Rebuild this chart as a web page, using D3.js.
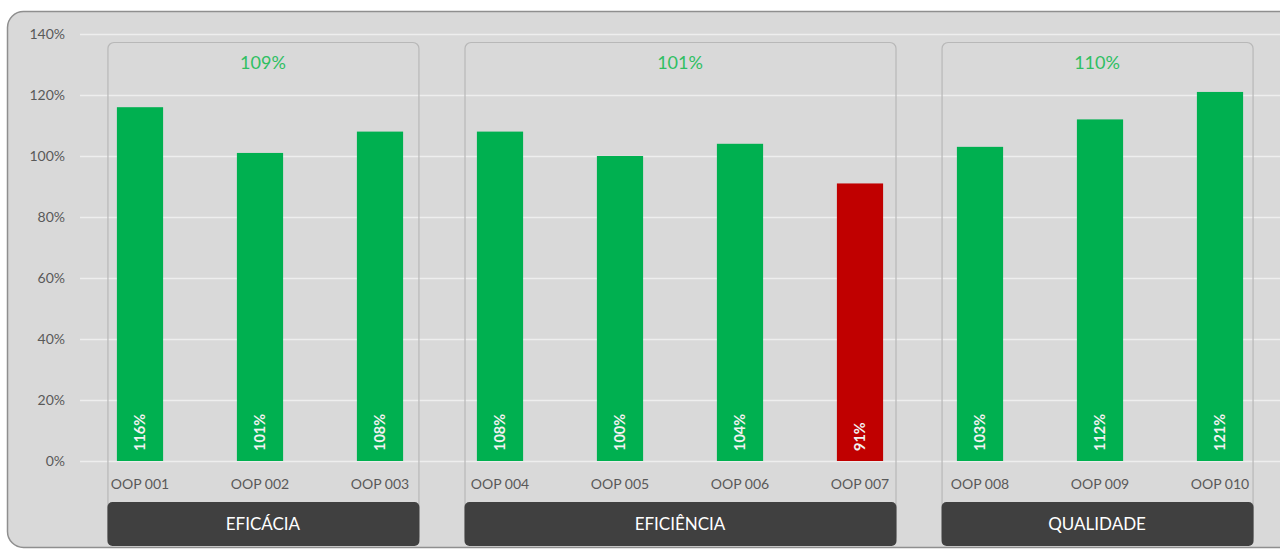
<!DOCTYPE html>
<html>
<head>
<meta charset="utf-8">
<script src="https://cdn.jsdelivr.net/npm/d3@7/dist/d3.min.js"></script>
<style>
  html, body { margin: 0; padding: 0; background: #ffffff; }
  svg { display: block; font-family: Lato, "Open Sans", sans-serif; }
</style>
</head>
<body>
<svg id="chart" width="1280" height="550"></svg>
<script>
// Indicator results per operation
const categories = ["OOP 001", "OOP 002", "OOP 003", "OOP 004", "OOP 005",
                    "OOP 006", "OOP 007", "OOP 008", "OOP 009", "OOP 010"];
const values = [116, 101, 108, 108, 100, 104, 91, 103, 112, 121];
const groupOf = ["EFICÁCIA", "EFICÁCIA", "EFICÁCIA",
                 "EFICIÊNCIA", "EFICIÊNCIA", "EFICIÊNCIA", "EFICIÊNCIA",
                 "QUALIDADE", "QUALIDADE", "QUALIDADE"];
const groupNames = ["EFICÁCIA", "EFICIÊNCIA", "QUALIDADE"];
const groupTotals = [109, 101, 110];
const yTicks = [0, 20, 40, 60, 80, 100, 120, 140];
const target = 100;

const svg = d3.select("#chart");
const plot = { left: 80, right: 1280, top: 34, bottom: 461 };

const x = d3.scaleBand().domain(categories).range([plot.left, plot.right]).paddingInner(0.615).paddingOuter(0.3075);
const y = d3.scaleLinear().domain([0, 140]).range([plot.bottom, plot.top]);
const step = x.step();
const mid = (plot.left + plot.right) / 2;

// Frame
svg.append("rect")
  .attr("x", 7.5).attr("y", 11.5).attr("width", 1290).attr("height", 536)
  .attr("rx", 16).attr("fill", "#d9d9d9").attr("stroke", "#8f8f8f").attr("stroke-width", 1.5);

// Gridlines
svg.append("g").selectAll("line").data(yTicks).join("line")
  .attr("x1", plot.left).attr("x2", plot.right)
  .attr("y1", d => Math.round(y(d)) + 0.5).attr("y2", d => Math.round(y(d)) + 0.5)
  .attr("stroke", "#eeeeee").attr("stroke-width", 1.5);

// Y axis labels
const yAxis = d3.axisLeft(y).tickValues(yTicks).tickFormat(d => d + "%").tickSize(0).tickPadding(0);
const yg = svg.append("g").attr("transform", "translate(65,0)").call(yAxis);
yg.select(".domain").remove();
yg.selectAll("text").attr("fill", "#595959").style("font-size", "14px").style("font-family", "Lato, sans-serif");

// Group panels, drawn slightly pulled toward the middle of the plot
const groups = groupNames.map((name, i) => {
  const members = categories.filter((c, j) => groupOf[j] === name);
  const c0 = x(members[0]) + x.bandwidth() / 2;
  const c1 = x(members[members.length - 1]) + x.bandwidth() / 2;
  const center = mid + ((c0 + c1) / 2 - mid) * 0.993;
  const width = members.length * step - 49;
  return { name, total: groupTotals[i], x0: center - width / 2, x1: center + width / 2, center };
});

const panels = svg.append("g");
panels.selectAll("rect").data(groups).join("rect")
  .attr("x", d => d.x0 + 0.5).attr("y", 42.5)
  .attr("width", d => d.x1 - d.x0).attr("height", 500)
  .attr("rx", 6)
  .attr("fill", "none").attr("stroke", "#b8b8b8").attr("stroke-width", 1.2);

panels.selectAll("text.total").data(groups).join("text")
  .attr("class", "total")
  .attr("x", d => d.center).attr("y", 69)
  .attr("text-anchor", "middle")
  .attr("fill", "#2fbf62")
  .style("font-size", "18px")
  .text(d => d.total + "%");

// Bars
const bars = svg.append("g");
bars.selectAll("rect").data(values).join("rect")
  .attr("x", (d, i) => x(categories[i]))
  .attr("y", d => y(d))
  .attr("width", x.bandwidth())
  .attr("height", d => y(0) - y(d))
  .attr("fill", d => d >= target ? "#00b050" : "#c00000");

// Value labels inside the bars
bars.selectAll("text").data(values).join("text")
  .attr("transform", (d, i) => `translate(${x(categories[i]) + x.bandwidth() / 2 + 5},${y(0) - 10}) rotate(-90)`)
  .attr("fill", "#f2f2f2")
  .style("font-size", "14.5px")
  .style("font-weight", "bold")
  .text(d => d + "%");

// Category labels
const xAxis = d3.axisBottom(x).tickSize(0).tickPadding(0);
const xg = svg.append("g").attr("transform", `translate(0,${plot.bottom + 28})`).call(xAxis);
xg.select(".domain").remove();
xg.selectAll("text").attr("fill", "#595959").attr("dy", 0).style("font-size", "14px").style("font-family", "Lato, sans-serif");

// Group name boxes
const boxes = svg.append("g");
boxes.selectAll("rect").data(groups).join("rect")
  .attr("x", d => d.x0).attr("y", 502)
  .attr("width", d => d.x1 - d.x0 + 1).attr("height", 44)
  .attr("rx", 5)
  .attr("fill", "#404040");
boxes.selectAll("text").data(groups).join("text")
  .attr("x", d => d.center).attr("y", 530)
  .attr("text-anchor", "middle")
  .attr("fill", "#ffffff")
  .style("font-size", "17px")
  .text(d => d.name);
</script>
</body>
</html>
